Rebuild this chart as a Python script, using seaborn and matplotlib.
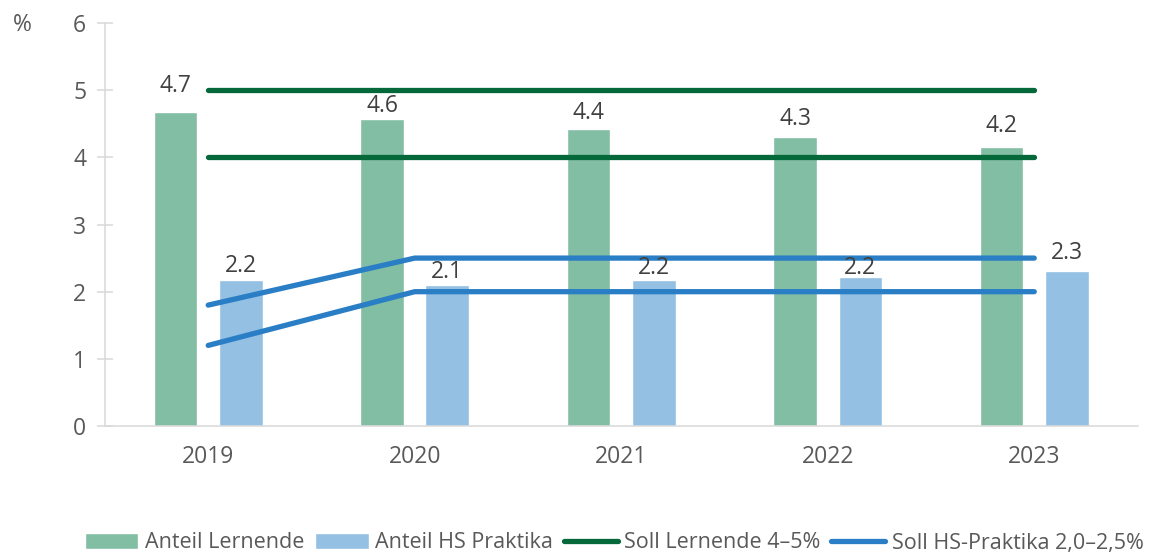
import pandas as pd
import matplotlib.pyplot as plt
import numpy as np
import seaborn as sns

# values
years = ['2019', '2020', '2021', '2022', '2023']
anteil_lernende = [4.67, 4.57, 4.42, 4.30, 4.16]
anteil_hs = [2.17, 2.10, 2.17, 2.22, 2.31]
soll_lernende_min = [4, 4, 4, 4, 4]
soll_lernende_max = [5, 5, 5, 5, 5]
soll_hs_min = [1.2, 2.0, 2.0, 2.0, 2.0]
soll_hs_max = [1.8, 2.5, 2.5, 2.5, 2.5]
series = ['Anteil Lernende', 'Anteil HS Praktika']

green_bar = '#82bea3'
blue_bar = '#93c0e3'
green_line = '#05683a'
blue_line = '#2a7ec5'
grey = '#d9d9d9'

sns.set_style('white')
plt.rcParams['font.family'] = ['Open Sans', 'DejaVu Sans']

df = pd.DataFrame({
    'year': years * 2,
    'series': [series[0]] * 5 + [series[1]] * 5,
    'value': anteil_lernende + anteil_hs,
})

fig = plt.figure(figsize=(11.56, 5.56), dpi=100)
ax = fig.add_axes([0.0908, 0.2338, 0.8932, 0.7248])

sns.barplot(data=df, x='year', y='value', hue='series', hue_order=series,
            palette=[green_bar, blue_bar], width=0.632, gap=0.33,
            saturation=1, ax=ax, zorder=1)

pos = np.arange(len(years))
lw = 3.8
sns.lineplot(x=pos, y=soll_lernende_max, color=green_line, linewidth=lw,
             solid_capstyle='round', ax=ax, label='Soll Lernende 4\u20135%', zorder=3)
sns.lineplot(x=pos, y=soll_lernende_min, color=green_line, linewidth=lw,
             solid_capstyle='round', ax=ax, zorder=3)
sns.lineplot(x=pos, y=soll_hs_max, color=blue_line, linewidth=lw,
             solid_capstyle='round', ax=ax, label='Soll HS-Praktika 2,0\u20132,5%', zorder=3)
sns.lineplot(x=pos, y=soll_hs_min, color=blue_line, linewidth=lw,
             solid_capstyle='round', ax=ax, zorder=3)

# labels on bars (Excel moved some by hand)
pads = [[10, 0.5, 3, 4.5, 6], [1.5, 0.5, 0, -2, 4]]
for cont, pad in zip(ax.containers, pads):
    for bar, p in zip(cont, pad):
        h = bar.get_height()
        ax.annotate(f'{h:.1f}', (bar.get_x() + bar.get_width() / 2, h),
                    xytext=(0, p), textcoords='offset points', ha='center',
                    va='bottom', fontsize=16.5, color='#404040', zorder=4)

ax.set_ylim(0, 6)
ax.set_xlim(-0.5, 4.5)
ax.set_yticks(range(7))
ax.set_xlabel('')
ax.set_ylabel('')
for s in ['top', 'right']:
    ax.spines[s].set_visible(False)
for s in ['left', 'bottom']:
    ax.spines[s].set_color(grey)
    ax.spines[s].set_linewidth(1.1)
ax.tick_params(axis='y', direction='inout', length=11, width=1.1, color=grey,
               labelsize=16.5, labelcolor='#595959', pad=8, left=True)
ax.tick_params(axis='x', length=0, labelsize=16.5, labelcolor='#595959', pad=14)

fig.text(22 / 1156, 1 - 25 / 556, '%', fontsize=16.5, color='#595959',
         ha='center', va='center')

handles, labels = ax.get_legend_handles_labels()
ax.get_legend().remove()
order = series + ['Soll Lernende 4\u20135%', 'Soll HS-Praktika 2,0\u20132,5%']
hmap = dict(zip(labels, handles))
fig.legend([hmap[l] for l in order], order, loc='center', ncol=4,
           bbox_to_anchor=(614 / 1156, 1 - 543 / 556), frameon=False,
           fontsize=15.5, labelcolor='#595959', handlelength=2.5,
           handleheight=0.7, handletextpad=0.3, columnspacing=0.5)

fig.savefig('out.png', dpi=100)
